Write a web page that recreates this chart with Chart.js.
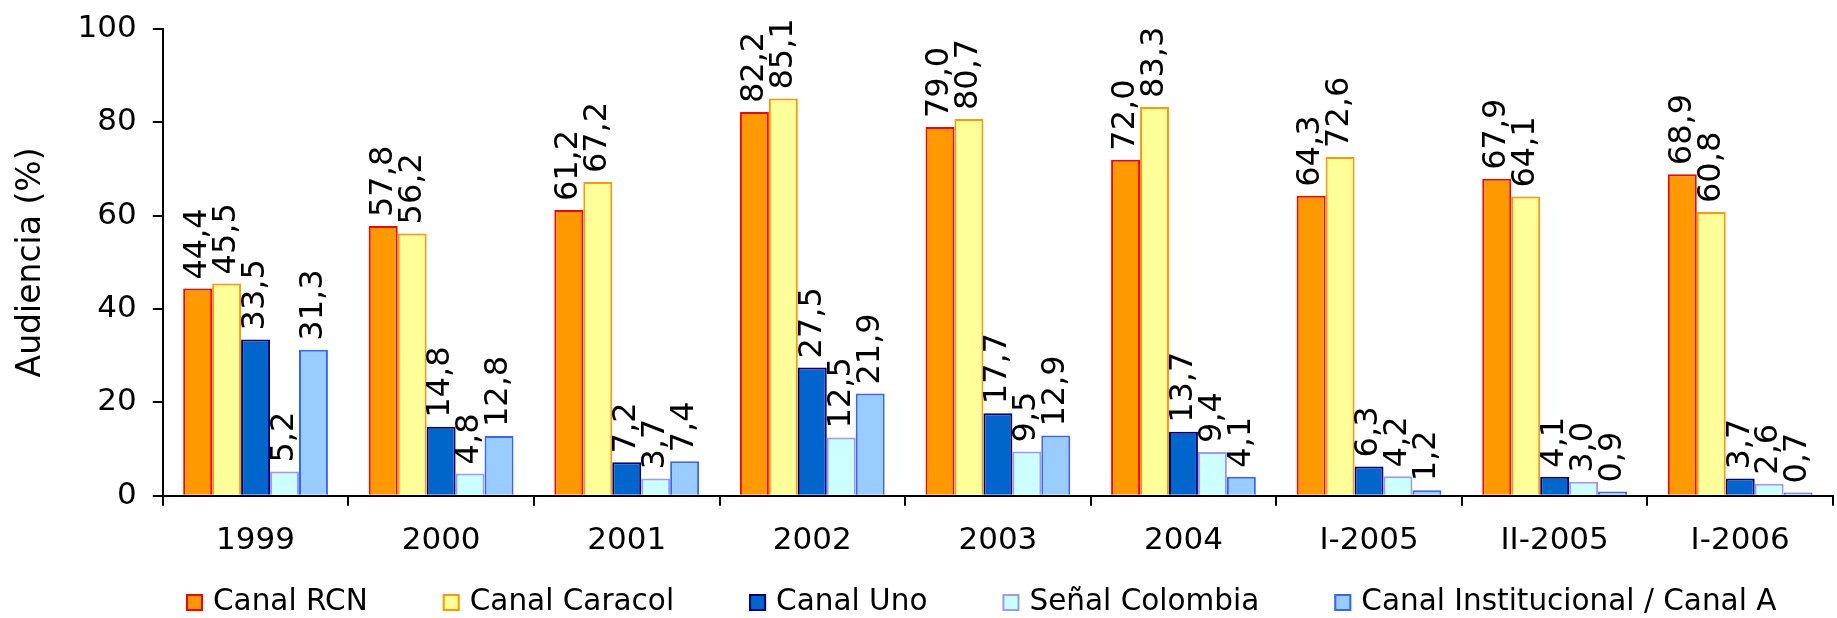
<!DOCTYPE html>
<html>
<head>
<meta charset="utf-8">
<script src="https://cdn.jsdelivr.net/npm/chart.js@4.4.1/dist/chart.umd.min.js"></script>
<style>
    html, body { margin: 0; padding: 0; background: #fff; }
    #wrap { width: 1837px; height: 618px; position: relative; }
</style>
</head>
<body>
<div id="wrap"><canvas id="audience-chart"></canvas></div>
<script>
// Categories and series
const periods = ['1999', '2000', '2001', '2002', '2003', '2004', 'I-2005', 'II-2005', 'I-2006'];
const canalRCN = [44.4, 57.8, 61.2, 82.2, 79.0, 72.0, 64.3, 67.9, 68.9];
const canalCaracol = [45.5, 56.2, 67.2, 85.1, 80.7, 83.3, 72.6, 64.1, 60.8];
const canalUno = [33.5, 14.8, 7.2, 27.5, 17.7, 13.7, 6.3, 4.1, 3.7];
const senalColombia = [5.2, 4.8, 3.7, 12.5, 9.5, 9.4, 4.2, 3.0, 2.6];
const canalInstitucional = [31.3, 12.8, 7.4, 21.9, 12.9, 4.1, 1.2, 0.9, 0.7];
const yTicks = [0, 20, 40, 60, 80, 100];

const FONT = '"DejaVu Sans", Verdana, sans-serif';

// rotated value labels above each bar
const valueLabels = {
    id: 'valueLabels',
    afterDatasetsDraw(chart) {
        const ctx = chart.ctx;
        ctx.save();
        ctx.font = `32px ${FONT}`;
        ctx.fillStyle = '#000';
        ctx.textAlign = 'left';
        ctx.textBaseline = 'middle';
        chart.data.datasets.forEach((ds, i) => {
            chart.getDatasetMeta(i).data.forEach((bar, j) => {
                ctx.save();
                ctx.translate(bar.x, bar.y - 9);
                ctx.rotate(-Math.PI / 2);
                ctx.fillText(ds.data[j].toFixed(1).replace('.', ','), 0, 0);
                ctx.restore();
            });
        });
        ctx.restore();
    }
};

// legend drawn in one row under the x axis
const bottomLegend = {
    id: 'bottomLegend',
    afterDraw(chart) {
        const ctx = chart.ctx;
        const box = 17, gapText = 10, gapItem = 75;
        const y = 602.5;
        let x = 186;
        ctx.save();
        ctx.font = `29.5px ${FONT}`;
        ctx.textAlign = 'left';
        ctx.textBaseline = 'middle';
        chart.data.datasets.forEach(ds => {
            ctx.fillStyle = ds.backgroundColor;
            ctx.fillRect(x, y - box / 2, box, box);
            ctx.strokeStyle = ds.borderColor;
            ctx.lineWidth = 2;
            ctx.strokeRect(x + 1, y - box / 2 + 1, box - 2, box - 2);
            ctx.fillStyle = '#000';
            ctx.fillText(ds.label, x + box + gapText, y);
            x += box + gapText + ctx.measureText(ds.label).width + gapItem;
        });
        ctx.restore();
    }
};

function makeDataset(label, data, fill, border) {
    return {
        label: label,
        data: data,
        backgroundColor: fill,
        borderColor: border,
        borderWidth: 2,
        categoryPercentage: 0.78,
        barPercentage: 1.0
    };
}

new Chart(document.getElementById('audience-chart').getContext('2d'), {
    type: 'bar',
    data: {
        labels: periods,
        datasets: [
            makeDataset('Canal RCN', canalRCN, '#FF9900', '#FF0000'),
            makeDataset('Canal Caracol', canalCaracol, '#FFFF99', '#FF9900'),
            makeDataset('Canal Uno', canalUno, '#0066CC', '#000080'),
            makeDataset('Señal Colombia', senalColombia, '#CCFFFF', '#9999FF'),
            makeDataset('Canal Institucional / Canal A', canalInstitucional, '#99CCFF', '#3366FF')
        ]
    },
    options: {
        responsive: true,
        maintainAspectRatio: false,
        animation: false,
        layout: { padding: { top: 29, right: 4, bottom: 41, left: 0 } },
        plugins: {
            legend: { display: false },
            tooltip: { enabled: false }
        },
        scales: {
            x: {
                ticks: { color: '#000', font: { family: FONT, size: 31 }, padding: 17, maxRotation: 0 },
                grid: { display: true, drawOnChartArea: false, tickLength: 10, color: '#000', lineWidth: 2 },
                border: { color: '#000', width: 2 }
            },
            y: {
                min: 0,
                max: 100,
                afterBuildTicks: (axis) => { axis.ticks = yTicks.map(v => ({ value: v })); },
                ticks: { color: '#000', font: { family: FONT, size: 31, lineHeight: 0.8 }, padding: 16 },
                grid: { display: true, drawOnChartArea: false, tickLength: 10, color: '#000', lineWidth: 2 },
                border: { color: '#000', width: 2 },
                title: {
                    display: true,
                    text: 'Audiencia (%)',
                    color: '#000',
                    font: { family: FONT, size: 33 },
                    padding: { top: 12, bottom: 10 }
                }
            }
        }
    },
    plugins: [valueLabels, bottomLegend]
});
</script>
</body>
</html>
